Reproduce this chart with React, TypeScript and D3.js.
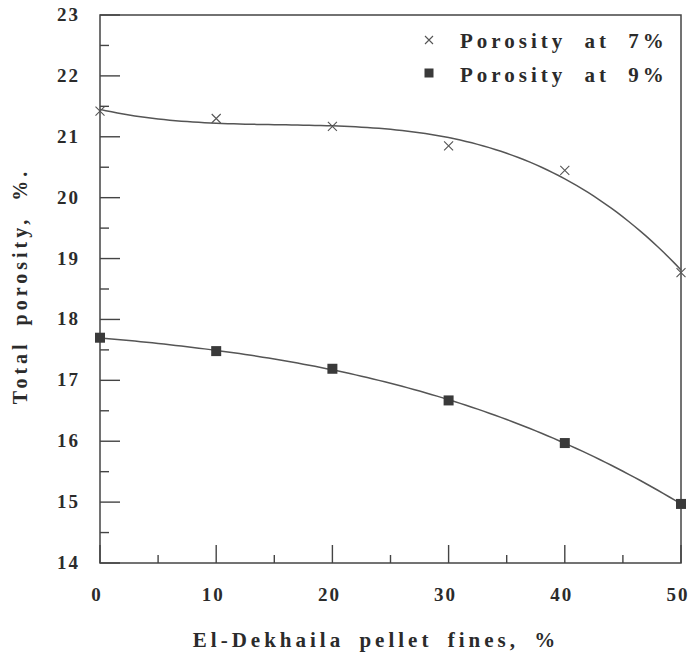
import React, { useRef, useEffect } from 'react';
import * as d3 from 'd3';

const fines = [0, 10, 20, 30, 40, 50];
const porosity7 = [21.42, 21.3, 21.17, 20.85, 20.45, 18.77];
const porosity9 = [17.7, 17.48, 17.19, 16.67, 15.97, 14.97];
const xTicks = [0, 10, 20, 30, 40, 50];
const yTicks = [14, 15, 16, 17, 18, 19, 20, 21, 22, 23];
const legendLabels = ['Porosity at 7%', 'Porosity at 9%'];
const xTitle = 'El-Dekhaila pellet fines, %';
const yTitle = 'Total porosity, %.';

// least squares polynomial, used for the smooth trend curves
const polyfit = (xs: number[], ys: number[], deg: number) => {
  const n = deg + 1;
  const A: number[][] = [];
  for (let i = 0; i < n; i++) {
    A.push([]);
    for (let j = 0; j < n; j++) A[i].push(d3.sum(xs, x => Math.pow(x, i + j)));
    A[i].push(d3.sum(xs, (x, k) => ys[k] * Math.pow(x, i)));
  }
  for (let c = 0; c < n; c++) {
    let p = c;
    for (let r = c + 1; r < n; r++) if (Math.abs(A[r][c]) > Math.abs(A[p][c])) p = r;
    [A[c], A[p]] = [A[p], A[c]];
    for (let r = 0; r < n; r++) {
      if (r === c) continue;
      const f = A[r][c] / A[c][c];
      for (let k = c; k <= n; k++) A[r][k] -= f * A[c][k];
    }
  }
  const coef = A.map((row, i) => row[n] / row[i]);
  return (x: number) => coef.reduce((s, a, i) => s + a * Math.pow(x, i), 0);
};

const Chart = () => {
  const ref = useRef<SVGSVGElement>(null);

  useEffect(() => {
    const width = 692;
    const height = 658;
    const svg = d3.select(ref.current);
    svg.selectAll('*').remove();

    const x = d3.scaleLinear().domain([0, 50]).range([100, 681]);
    const y = d3.scaleLinear().domain([14, 23]).range([563, 15]);
    const ink = '#2b2b2b';
    const font = '"Liberation Serif", "Times New Roman", serif';

    svg.append('rect').attr('width', width).attr('height', height).attr('fill', '#fff');

    // frame
    svg.append('rect')
      .attr('x', x(0)).attr('y', y(23))
      .attr('width', x(50) - x(0)).attr('height', y(14) - y(23))
      .attr('fill', 'none').attr('stroke', '#444').attr('stroke-width', 1.5);

    // y ticks (inside)
    d3.range(14, 23.01, 0.5).forEach(v => {
      const major = Number.isInteger(v);
      svg.append('line')
        .attr('x1', x(0)).attr('x2', x(0) + (major ? 20 : 9))
        .attr('y1', y(v)).attr('y2', y(v))
        .attr('stroke', '#444').attr('stroke-width', 1.4);
    });
    // x ticks (inside)
    d3.range(0, 50.01, 5).forEach(v => {
      const major = v % 10 === 0;
      svg.append('line')
        .attr('x1', x(v)).attr('x2', x(v))
        .attr('y1', y(14)).attr('y2', y(14) - (major ? 18 : 8))
        .attr('stroke', '#444').attr('stroke-width', 1.4);
    });

    svg.append('g').selectAll('text').data(yTicks).join('text')
      .attr('x', 80).attr('y', d => y(d) + 6)
      .attr('text-anchor', 'end')
      .attr('font-family', font).attr('font-size', 19).attr('font-weight', 'bold')
      .attr('letter-spacing', 2).attr('fill', ink)
      .text(d => d);

    svg.append('g').selectAll('text').data(xTicks).join('text')
      .attr('x', d => x(d) - 3).attr('y', 601)
      .attr('text-anchor', 'middle')
      .attr('font-family', font).attr('font-size', 19).attr('font-weight', 'bold')
      .attr('letter-spacing', 2).attr('fill', ink)
      .text(d => d);

    svg.append('text')
      .attr('x', 376).attr('y', 647)
      .attr('text-anchor', 'middle')
      .attr('font-family', font).attr('font-size', 21).attr('font-weight', 'bold')
      .attr('letter-spacing', 4).attr('word-spacing', 6).attr('fill', ink)
      .text(xTitle);

    svg.append('text')
      .attr('transform', 'translate(27,286) rotate(-90)')
      .attr('text-anchor', 'middle')
      .attr('font-family', font).attr('font-size', 20).attr('font-weight', 'bold')
      .attr('letter-spacing', 4).attr('word-spacing', 6).attr('fill', ink)
      .text(yTitle);

    // trend curves
    [porosity7, porosity9].forEach(vals => {
      const f = polyfit(fines, vals, 3);
      const xs = d3.range(0, 50.01, 0.5);
      svg.append('path')
        .attr('d', d3.line<number>().x(d => x(d)).y(d => y(f(d)))(xs))
        .attr('fill', 'none').attr('stroke', '#555').attr('stroke-width', 1.5);
    });

    // markers
    const cross = (g: any, cx: number, cy: number, r = 4.5) => {
      g.append('path')
        .attr('d', `M${cx - r},${cy - r}L${cx + r},${cy + r}M${cx - r},${cy + r}L${cx + r},${cy - r}`)
        .attr('stroke', '#555').attr('stroke-width', 1.1).attr('fill', 'none');
    };
    const square = (g: any, cx: number, cy: number, s = 10) => {
      g.append('rect')
        .attr('x', cx - s / 2).attr('y', cy - s / 2).attr('width', s).attr('height', s)
        .attr('fill', '#3a3a3a');
    };
    fines.forEach((f, i) => cross(svg, x(f), y(porosity7[i])));
    fines.forEach((f, i) => square(svg, x(f), y(porosity9[i])));

    // legend
    cross(svg, 429, 40, 4);
    square(svg, 429, 73, 9);
    svg.append('g').selectAll('text').data(legendLabels).join('text')
      .attr('x', 460).attr('y', (d, i) => 48 + i * 34)
      .attr('font-family', font).attr('font-size', 21).attr('font-weight', 'bold')
      .attr('letter-spacing', 4).attr('word-spacing', 9).attr('fill', ink)
      .text(d => d);
  }, []);

  return <svg ref={ref} width={692} height={658} style={{ position: 'absolute', left: 0, top: 0 }}></svg>;
};

export default function App() {
  return <Chart />;
}
